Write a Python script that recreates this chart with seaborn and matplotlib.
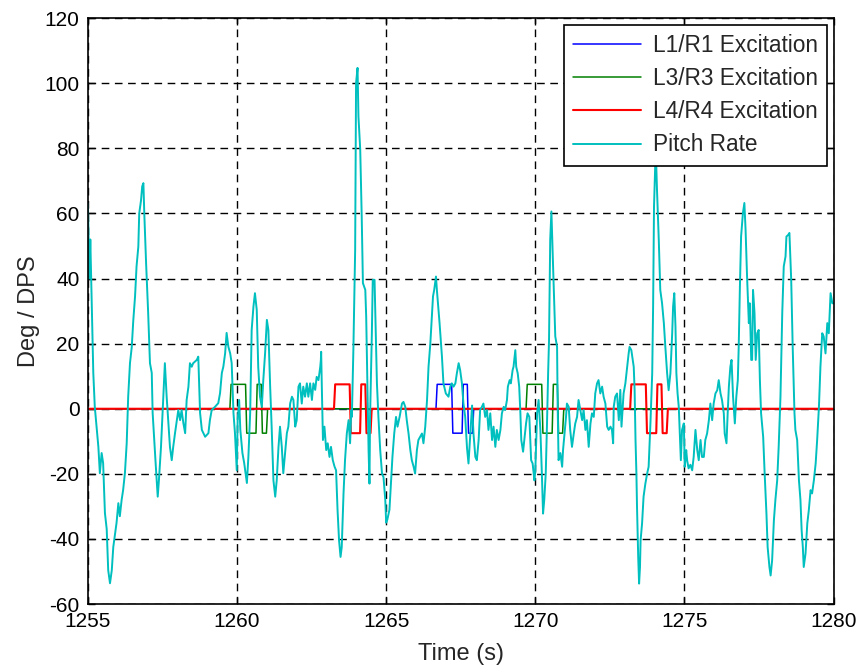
import numpy as np
import pandas as pd
import matplotlib
matplotlib.use("Agg")
import matplotlib.pyplot as plt
import seaborn as sns

# ---------------- data ----------------
T0 = 1255.0
# pitch rate trace: time offsets from 1255 s and values (deg/s)
pitch_t = [0.00, 0.05, 0.08, 0.12, 0.18, 0.23, 0.29, 0.35, 0.40, 0.46, 0.51, 0.57, 0.63, 0.68, 0.74, 0.80,
           0.85, 0.91, 0.96, 1.02, 1.07, 1.13, 1.18, 1.24, 1.30, 1.35, 1.41, 1.47, 1.52, 1.58, 1.63, 1.69,
           1.72, 1.78, 1.82, 1.86, 1.89, 1.95, 2.02, 2.08, 2.14, 2.17, 2.21, 2.27, 2.34, 2.38, 2.45, 2.53,
           2.58, 2.64, 2.69, 2.75, 2.81, 2.86, 2.92, 3.03, 3.09, 3.14, 3.20, 3.26, 3.31, 3.37, 3.42, 3.48,
           3.53, 3.65, 3.70, 3.76, 3.82, 3.93, 4.04, 4.09, 4.15, 4.26, 4.37, 4.43, 4.49, 4.54, 4.60, 4.65,
           4.71, 4.77, 4.82, 4.88, 4.93, 4.99, 5.02, 5.07, 5.11, 5.18, 5.24, 5.33, 5.38, 5.44, 5.49, 5.55,
           5.60, 5.66, 5.71, 5.77, 5.83, 5.88, 5.94, 6.00, 6.05, 6.11, 6.16, 6.22, 6.28, 6.33, 6.39, 6.44,
           6.50, 6.55, 6.61, 6.67, 6.72, 6.78, 6.84, 6.89, 6.95, 7.00, 7.06, 7.11, 7.17, 7.22, 7.28, 7.34,
           7.39, 7.45, 7.51, 7.56, 7.62, 7.67, 7.73, 7.79, 7.81, 7.82, 7.84, 7.88, 7.93, 7.99, 8.04, 8.10,
           8.15, 8.21, 8.27, 8.32, 8.37, 8.42, 8.47, 8.51, 8.57, 8.62, 8.68, 8.74, 8.79, 8.83, 8.85, 8.90,
           8.96, 8.99, 9.04, 9.07, 9.13, 9.18, 9.22, 9.30, 9.33, 9.37, 9.41, 9.44, 9.46, 9.52, 9.55, 9.61,
           9.65, 9.69, 9.74, 9.80, 9.86, 9.91, 9.97, 10.00, 10.04, 10.11, 10.16, 10.21, 10.27, 10.33, 10.38, 10.45,
           10.53, 10.58, 10.64, 10.69, 10.75, 10.81, 10.86, 10.92, 10.97, 11.03, 11.08, 11.14, 11.20, 11.25, 11.31, 11.37,
           11.42, 11.48, 11.53, 11.57, 11.61, 11.67, 11.70, 11.79, 11.87, 11.92, 12.00, 12.09, 12.15, 12.20, 12.26, 12.32,
           12.37, 12.43, 12.48, 12.54, 12.59, 12.65, 12.71, 12.76, 12.82, 12.88, 12.93, 12.99, 13.04, 13.10, 13.15, 13.21,
           13.26, 13.32, 13.38, 13.43, 13.49, 13.55, 13.60, 13.66, 13.71, 13.77, 13.83, 13.88, 13.94, 13.99, 14.05, 14.08,
           14.14, 14.18, 14.24, 14.27, 14.33, 14.36, 14.41, 14.46, 14.50, 14.53, 14.59, 14.63, 14.69, 14.74, 14.80, 14.86,
           14.91, 14.97, 15.00, 15.06, 15.11, 15.17, 15.22, 15.26, 15.30, 15.35, 15.39, 15.43, 15.46, 15.50, 15.54, 15.57,
           15.61, 15.67, 15.73, 15.75, 15.78, 15.84, 15.90, 15.93, 15.98, 16.03, 16.06, 16.12, 16.17, 16.23, 16.29, 16.34,
           16.40, 16.45, 16.51, 16.57, 16.62, 16.68, 16.73, 16.79, 16.85, 16.90, 16.96, 17.01, 17.07, 17.12, 17.18, 17.24,
           17.29, 17.35, 17.41, 17.46, 17.52, 17.57, 17.61, 17.63, 17.68, 17.74, 17.80, 17.85, 17.89, 17.93, 17.96, 18.02,
           18.08, 18.13, 18.16, 18.22, 18.27, 18.30, 18.33, 18.36, 18.39, 18.41, 18.45, 18.48, 18.51, 18.53, 18.58, 18.63,
           18.69, 18.75, 18.80, 18.86, 18.92, 18.95, 18.98, 19.02, 19.05, 19.08, 19.14, 19.19, 19.25, 19.31, 19.36, 19.42,
           19.47, 19.53, 19.59, 19.62, 19.66, 19.70, 19.73, 19.77, 19.81, 19.84, 19.88, 19.92, 19.98, 20.01, 20.06, 20.09,
           20.14, 20.20, 20.26, 20.31, 20.37, 20.43, 20.48, 20.54, 20.59, 20.65, 20.70, 20.76, 20.82, 20.87, 20.93, 20.98,
           21.04, 21.10, 21.15, 21.21, 21.26, 21.32, 21.35, 21.41, 21.45, 21.49, 21.54, 21.58, 21.63, 21.69, 21.74, 21.79,
           21.82, 21.86, 21.90, 21.96, 22.01, 22.05, 22.10, 22.16, 22.19, 22.24, 22.27, 22.30, 22.35, 22.39, 22.44, 22.49,
           22.53, 22.57, 22.64, 22.69, 22.75, 22.79, 22.85, 22.89, 22.94, 23.00, 23.05, 23.11, 23.16, 23.22, 23.28, 23.33,
           23.39, 23.42, 23.48, 23.52, 23.58, 23.63, 23.69, 23.72, 23.78, 23.84, 23.89, 23.93, 23.97, 24.00, 24.06, 24.12,
           24.17, 24.23, 24.28, 24.34, 24.40, 24.45, 24.51, 24.56, 24.62, 24.67, 24.73, 24.79, 24.84, 24.90, 24.96, 25.00]
pitch_v = [63.0, 40.0, 52.0, 35.0, 11.0, 0.6, -5.5, -11.7, -19.8, -13.6, -16.7, -32.0, -37.0, -49.6, -53.6, -49.6,
           -42.5, -38.3, -35.0, -29.0, -33.0, -28.0, -25.0, -19.8, -10.6, 3.7, 14.0, 19.0, 27.0, 34.5, 43.7, 49.8,
           60.0, 64.0, 68.3, 69.3, 60.0, 44.8, 29.4, 14.0, 11.0, -1.3, -7.5, -16.7, -27.0, -22.0, -11.7, 3.7,
           14.0, 3.7, -3.5, -11.7, -15.8, -11.7, -7.5, -0.4, -3.5, -0.4, -4.4, -7.5, 2.7, 6.8, 14.0, 12.9,
           14.0, 15.0, 16.0, -1.3, -6.5, -8.6, -7.5, -3.5, -0.4, 0.6, 1.7, 4.8, 11.0, 12.9, 17.0, 23.3,
           19.0, 17.0, 14.0, -1.3, -7.5, -18.9, -3.5, 2.7, -6.5, -13.6, -16.7, -22.8, -14.8, -1.3, 24.2, 31.4,
           35.5, 30.4, 12.9, 3.7, 0.6, 8.8, 17.0, 27.3, 24.2, 6.8, -5.5, -22.0, -27.0, -22.0, -11.7, -5.5,
           -11.7, -19.8, -13.6, -7.5, -5.5, 1.6, 3.7, 2.7, -5.5, -3.5, 6.8, 7.8, 1.6, 6.8, 3.7, 7.8,
           3.7, 7.8, 2.7, 7.8, 5.8, 9.8, 8.8, 12.9, 15.0, 17.5, 7.8, -9.6, -5.5, -12.7, -10.6, -14.8,
           -11.7, -15.8, -17.8, -18.9, -31.2, -40.4, -45.5, -42.5, -26.0, -15.8, -7.6, -3.5, -10.6, -0.4, -2.5, 18.0,
           48.8, 100.0, 104.7, 89.8, 79.6, 59.0, 38.6, 36.5, 28.3, 7.8, -12.7, -23.0, -2.5, 23.2, 39.6, 39.6,
           23.2, 7.8, -2.5, -12.7, -19.9, -21.0, -28.0, -35.0, -34.0, -31.0, -23.0, -14.8, -7.6, -2.5, -5.5, -2.5,
           1.6, 2.1, 0.6, -3.5, -7.6, -12.7, -15.8, -17.8, -19.9, -12.7, -9.6, -8.6, -7.6, -10.6, -5.5, 2.7,
           12.9, 20.0, 28.3, 34.5, 36.5, 40.6, 36.5, 26.3, 16.0, 7.8, 4.7, 3.7, 6.8, 7.8, 6.8, 7.8,
           10.9, 14.0, 11.9, 7.8, 1.6, -2.5, -12.0, -16.8, -8.0, 1.0, -8.0, -14.8, -15.8, -9.6, -0.4, 0.6,
           1.6, -2.5, -0.4, -6.5, -1.4, -9.6, -5.5, -11.7, -6.5, -9.6, -6.5, -1.4, 0.6, -0.4, 2.7, 6.8,
           8.8, 7.8, 11.9, 12.9, 18.0, 12.9, 10.9, 6.8, -1.4, -9.6, -13.2, -9.6, -4.5, -1.4, -2.5, -15.8,
           -16.8, -22.0, -19.0, -1.4, 2.7, -6.5, -19.9, -32.2, -28.0, -19.9, -5.5, 10.9, 21.0, 52.0, 60.6, 52.0,
           39.6, 22.2, 19.0, 0.6, -15.8, -13.6, -17.8, -12.7, -7.6, -2.5, 1.6, 0.6, -6.5, -11.7, -7.6, -4.5,
           -2.5, 2.7, -0.4, -3.5, -0.4, -6.5, -3.5, -11.7, -4.5, -1.4, -2.5, 4.7, 7.8, 8.8, 4.7, 6.8,
           3.7, 1.6, -5.5, -6.5, -5.5, -6.5, -10.6, 0.6, 3.7, 4.7, -3.5, 5.8, -5.5, 0.6, 4.7, 7.8,
           12.9, 17.0, 19.0, 18.0, 14.9, 12.9, 5.7, -9.6, -19.9, -30.0, -45.5, -53.7, -48.6, -40.4, -35.2, -27.0,
           -23.0, -19.9, -17.8, -4.5, 10.9, 31.4, 62.0, 74.5, 76.5, 67.3, 51.9, 36.5, 32.4, 26.3, 19.0, 10.9,
           5.7, 10.9, 23.2, 31.4, 35.5, 25.2, 10.9, 4.7, 0.6, -6.5, -15.8, -6.5, -4.5, -17.8, -12.7, -15.8,
           -18.3, -17.2, -18.9, -14.8, -6.5, -12.7, -15.8, -9.6, -14.8, -14.8, -9.6, -7.6, -3.5, 1.6, -3.5, 1.6,
           4.7, 5.7, 8.8, 4.7, 2.7, -1.4, -7.6, -10.6, -1.4, 6.8, 12.9, 15.0, 3.7, -4.5, 3.7, 8.8,
           19.0, 37.5, 52.9, 60.0, 63.2, 55.0, 40.6, 26.3, 32.4, 15.0, 15.0, 36.5, 29.4, 15.0, 23.2, 24.2,
           8.8, -1.4, -8.6, -19.9, -32.2, -42.5, -48.6, -51.2, -46.6, -34.2, -28.0, -22.0, -11.7, 3.7, 29.4, 43.7,
           46.8, 52.9, 53.4, 54.0, 39.6, 19.0, -1.4, -6.5, -9.6, -22.0, -28.0, -37.3, -42.5, -48.6, -44.5, -35.2,
           -31.2, -25.0, -26.0, -22.0, -16.8, -9.6, 0.6, 12.9, 23.2, 22.2, 17.0, 26.3, 23.2, 35.5, 32.4, 32.4]

# 3-2-1-1 multistep excitations (start time offsets from 1255 s)
exc_step_units = [3, 2, 1, 1]
exc_step_levels = [7.5, -7.5, 7.5, -7.5]
exc_unit_s = 0.175
exc_ramp_s = 0.04
l1_starts = [11.67]
l3_starts = [4.76, 14.69]
l4_starts = [8.25, 18.18]

series_labels = ["L1/R1 Excitation", "L3/R3 Excitation", "L4/R4 Excitation", "Pitch Rate"]
series_colors = ["#0000FF", "#008000", "#FF0000", "#00BFBF"]
x_ticks = [1255, 1260, 1265, 1270, 1275, 1280]
y_ticks = [-60, -40, -20, 0, 20, 40, 60, 80, 100, 120]


def excitation(starts):
    t = [0.0]
    v = [0.0]
    for s in starts:
        cur = s
        t.append(cur); v.append(0.0)
        for u, lev in zip(exc_step_units, exc_step_levels):
            t.append(cur + exc_ramp_s); v.append(lev)
            cur = cur + u * exc_unit_s
            t.append(cur); v.append(lev)
        t.append(cur + exc_ramp_s); v.append(0.0)
    t.append(25.0); v.append(0.0)
    return pd.DataFrame({"t": T0 + np.array(t), "v": v})


frames = [excitation(l1_starts), excitation(l3_starts), excitation(l4_starts),
          pd.DataFrame({"t": T0 + np.array(pitch_t), "v": pitch_v})]

# ---------------- plot ----------------
sns.set_theme(style="white")
plt.rcParams["font.family"] = ["Liberation Sans", "DejaVu Sans"]
plt.rcParams["axes.unicode_minus"] = False

fig = plt.figure(figsize=(8.62, 6.69), dpi=100)
ax = fig.add_axes([0.102, 0.097, 0.865, 0.876])

widths = [1.1, 1.1, 1.5, 1.4]
for df, lab, col, lw in zip(frames, series_labels, series_colors, widths):
    sns.lineplot(data=df, x="t", y="v", ax=ax, color=col, label=lab, linewidth=lw,
                 estimator=None, sort=False)

ax.set_xlim(1255, 1280)
ax.set_ylim(-60, 120)
ax.set_xticks(x_ticks)
ax.set_yticks(y_ticks)
ax.grid(True, color="black", linestyle=(0, (5.5, 4.0)), linewidth=1.0)
ax.set_axisbelow(True)
ax.tick_params(direction="in", length=5, width=1, colors="black", labelsize=15,
               top=True, right=True, bottom=True, left=True, pad=6)
for sp in ax.spines.values():
    sp.set_color("black")
    sp.set_linewidth(1.2)
ax.set_xlabel("Time (s)", fontsize=17, labelpad=8)
ax.set_ylabel("Deg / DPS", fontsize=17, labelpad=3)

leg = ax.legend(loc="upper right", fontsize=16.3, frameon=True, fancybox=False, shadow=False,
                handlelength=3.0, labelspacing=0.45, borderpad=0.4, handletextpad=0.5,
                borderaxespad=0.3)
leg.get_frame().set_edgecolor("black")
leg.get_frame().set_linewidth(1.2)
leg.get_frame().set_alpha(1)

fig.savefig("out.png", dpi=100)
